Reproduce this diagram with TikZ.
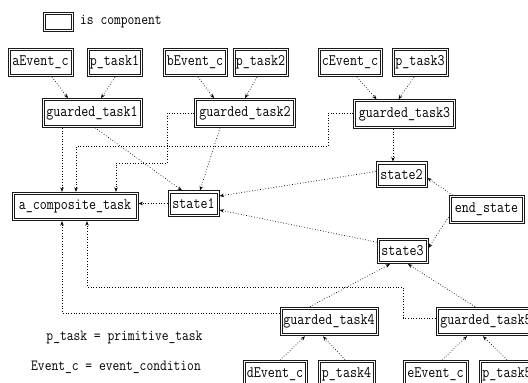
\documentclass[tikz,border=0pt]{standalone}
\usepackage{graphicx}
\usetikzlibrary{arrows.meta}
\newcommand\bx[1]{\scalebox{0.85}[1]{#1}}
\tikzset{
 comp/.style={draw=black!90, line width=1pt, inner xsep=0pt, inner ysep=7.5pt, font=\fontsize{16}{16}\selectfont\ttfamily},
 innerbox/.style={draw=black!90, line width=0.8pt},
 conn/.style={draw=black, dotted, line width=0.7pt, -{Stealth[length=4.5pt,width=3.5pt]}},
 lgd/.style={font=\fontsize{15.5}{16}\selectfont\ttfamily, inner sep=0pt}
}
\begin{document}
\begin{tikzpicture}[x=1pt,y=-1pt]
\fill[white] (0,0) rectangle (528,383);
\useasboundingbox (0,0) rectangle (528,383);
\node[comp, minimum width=30pt, minimum height=19pt] (leg) at (58,21.5) {};
\node[lgd, anchor=west] (legt) at (80,22) {\bx{is component}};
\node[comp, minimum width=65pt] (ae) at (40.5,62.5) {\bx{aEvent\_c}};
\node[comp, minimum width=55pt] (p1) at (114.5,62.5) {\bx{p\_task1}};
\node[comp, minimum width=64pt] (be) at (195,62.5) {\bx{bEvent\_c}};
\node[comp, minimum width=55pt] (p2) at (260.5,62.5) {\bx{p\_task2}};
\node[comp, minimum width=64pt] (ce) at (350,62.5) {\bx{cEvent\_c}};
\node[comp, minimum width=56pt] (p3) at (420,62.5) {\bx{p\_task3}};
\node[comp, minimum width=100pt] (g1) at (92,113) {\bx{guarded\_task1}};
\node[comp, minimum width=101pt] (g2) at (245,113) {\bx{guarded\_task2}};
\node[comp, minimum width=102pt] (g3) at (404.5,114) {\bx{guarded\_task3}};
\node[comp, minimum width=126pt] (ac) at (75,206.5) {\bx{a\_composite\_task}};
\node[comp, minimum width=51pt] (s1) at (193.5,203.5) {\bx{state1}};
\node[comp, minimum width=51pt] (s2) at (401.5,174.5) {\bx{state2}};
\node[comp, minimum width=75pt] (es) at (486.5,209.5) {\bx{end\_state}};
\node[comp, minimum width=51pt] (s3) at (402.5,251) {\bx{state3}};
\node[comp, minimum width=98pt] (g4) at (329,321.5) {\bx{guarded\_task4}};
\node[comp, minimum width=100pt] (g5) at (486,321.5) {\bx{guarded\_task5}};
\node[comp, minimum width=64pt] (de) at (275,374.5) {\bx{dEvent\_c}};
\node[comp, minimum width=57pt] (p4) at (346.5,374.5) {\bx{p\_task4}};
\node[comp, minimum width=65pt] (ee) at (435.5,374.5) {\bx{eEvent\_c}};
\node[comp, minimum width=56pt] (p5) at (507,374.5) {\bx{p\_task5}};
\node[lgd] (n1) at (124.5,337) {\bx{p\_task = primitive\_task}};
\node[lgd] (n2) at (116,367) {\bx{Event\_c = event\_condition}};
% inner lines of the double borders
\foreach \n in {leg,ae,p1,be,p2,ce,p3,g1,g2,g3,ac,s1,s2,es,s3,g4,g5,de,p4,ee,p5}
  \draw[innerbox] ([xshift=2.6pt,yshift=-2.6pt]\n.north west) rectangle ([xshift=-2.6pt,yshift=2.6pt]\n.south east);
% top inputs
\draw[conn] ([xshift=11.5pt]ae.south) -- ([xshift=-24pt]g1.north);
\draw[conn] ([xshift=0.5pt]p1.south) -- ([xshift=9pt]g1.north);
\draw[conn] ([xshift=3pt]be.south) -- ([xshift=-31pt]g2.north);
\draw[conn] ([xshift=-3.5pt]p2.south) -- (g2.north);
\draw[conn] ([xshift=7pt]ce.south) -- ([xshift=-28pt]g3.north);
\draw[conn] ([xshift=-6pt]p3.south) -- ([xshift=-6pt]g3.north);
% guarded tasks
\draw[conn] ([xshift=-30pt]g1.south) -- ([xshift=-13pt]ac.north);
\draw[conn] ([xshift=3pt]g1.south) -- ([xshift=-11.5pt]s1.north);
\draw[conn] ([xshift=-25pt]g2.south) -- ([xshift=6.5pt]s1.north);
\draw[conn] (g2.west) -| (167,163) -| ([xshift=41pt]ac.north);
\draw[conn] ([yshift=1pt]g3.west) -| (328,146) -| ([xshift=1pt]ac.north);
\draw[conn] ([xshift=-11.5pt]g3.south) -- ([xshift=-8.5pt]s2.north);
% states
\draw[conn] ([yshift=3pt]s2.west) -- ([yshift=7.5pt]s1.east);
\draw[conn] ([yshift=9pt]s3.west) -- ([yshift=-6.5pt]s1.east);
\draw[conn] ([xshift=4pt]es.north west) -- ([yshift=-3.5pt]s2.east);
\draw[conn] ([yshift=-7.5pt]es.west) -- ([yshift=3pt]s3.east);
\draw[conn] (s1.west) -- (s1.west -| ac.east);
% bottom
\draw[conn] ([xshift=-19pt]g4.north) -- ([xshift=-12.5pt]s3.south);
\draw[conn] ([xshift=-11pt]g5.north) -- ([xshift=5.5pt]s3.south);
\draw[conn] ([yshift=8.5pt]g4.west) -| ([xshift=-13pt]ac.south);
\draw[conn] ([yshift=3.5pt]g5.west) -| (403,287) -| ([xshift=12pt]ac.south);
\draw[conn] ([xshift=5pt]de.north) -- ([xshift=-24pt]g4.south);
\draw[conn] ([xshift=-1.5pt]p4.north) -- ([xshift=-6pt]g4.south);
\draw[conn] ([xshift=6.5pt]ee.north) -- ([xshift=-19pt]g5.south);
\draw[conn] (p5.north) -- ([xshift=-3pt]g5.south);
\end{tikzpicture}
\end{document}
